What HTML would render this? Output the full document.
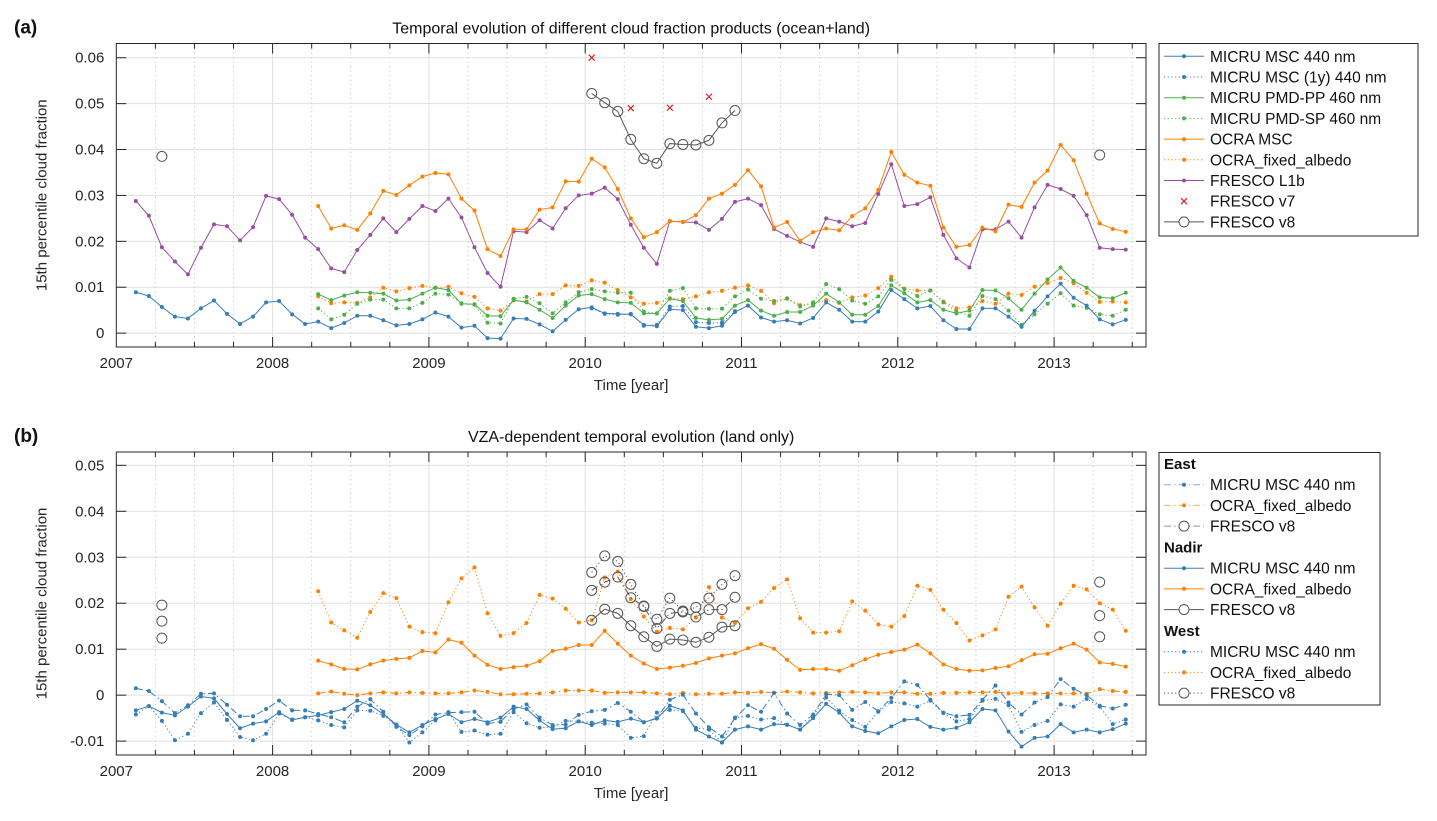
<!DOCTYPE html>
<html><head><meta charset="utf-8"><title>Cloud fraction temporal evolution</title>
<style>
body{margin:0;background:#fff;}
svg{display:block;font-family:"Liberation Sans",Arial,sans-serif;}
</style></head>
<body>
<svg id="fig" width="1437" height="821" viewBox="0 0 1437 821" xmlns="http://www.w3.org/2000/svg"></svg>
<script>
// ---------- DATA (values in units of 0.001 cloud fraction, monthly) ----------
// Panel (a)
const aMicruMscStart=[2007,2];
const aMicruMsc=[8.9,8.1,5.7,3.6,3.2,5.4,7.1,4.2,2.0,3.6,6.7, 7.0,4.1,2.0,2.5,1.1,2.2,3.8,3.8,2.8,1.7,2.0,3.0, 4.5,3.6,1.2,1.6,-1.1,-1.2,3.2,3.1,1.9,0.4,2.9,5.2, 5.6,4.3,4.2,4.1,1.8,1.5,5.2,5.0,1.4,1.1,1.6,4.6, 6.0,3.4,2.5,2.8,2.1,3.3,6.7,5.1,2.5,2.5,4.7,9.4, 7.4,5.4,5.9,2.8,0.9,0.9,5.4,5.4,3.6,1.4,4.9,8.0, 10.8,7.7,6.0,3.0,1.9,2.9];
const aMicru1yStart=[2010,1];
const aMicru1y=[5.4,4.2,4.0,4.2,1.6,1.8,5.8,5.9,2.4,2.2,2.3,4.8];
const aPmdPPStart=[2008,4];
const aPmdPP=[8.5,7.2,8.2,8.9,8.8,8.6,7.1,7.3,8.6, 9.9,9.4,6.4,6.3,3.8,3.7,7.2,6.7,5.1,3.3,6.0,8.2, 8.5,7.4,6.7,6.6,4.3,4.3,7.5,7.0,3.3,2.9,3.1,6.0, 7.2,4.9,3.8,4.6,4.6,6.0,8.6,6.7,4.0,4.0,5.9,10.4, 8.7,6.7,7.2,5.1,4.3,4.9,9.4,9.3,7.6,5.1,8.6,11.7, 14.3,11.4,9.9,7.8,7.6,8.8];
const aPmdSPStart=[2008,4];
const aPmdSP=[5.4,3.0,4.0,6.4,7.3,7.3,5.4,5.4,6.6, 8.6,8.4,6.5,6.2,2.3,2.1,7.5,7.9,6.5,4.3,6.7,8.9, 9.6,9.1,8.8,8.8,4.7,4.3,9.2,9.8,5.4,5.3,5.3,8.0, 9.5,7.5,7.0,7.5,5.8,6.7,10.7,9.6,7.1,6.4,8.0,11.6, 9.6,8.1,9.3,6.7,4.7,3.8,8.1,7.4,4.9,1.8,4.1,6.4, 8.7,6.0,5.5,4.1,3.8,5.1];
const aOcraMscStart=[2008,4];
const aOcraMsc=[27.7,22.8,23.5,22.5,26.1,31.0,30.1,32.2,34.1, 34.9,34.6,29.3,26.7,18.3,16.8,22.6,22.6,26.9,27.4,33.1,33.0, 38.0,36.1,31.4,25.0,20.9,22.0,24.4,24.2,25.7,29.3,30.4,32.3, 35.5,32.0,23.0,24.2,20.1,22.0,22.8,22.4,25.5,27.2,31.2,39.5, 34.5,32.8,32.1,23.0,18.8,19.2,23.0,22.2,28.0,27.5,32.8,35.4, 41.0,37.7,30.4,23.9,22.7,22.1];
const aOcraFixStart=[2008,4];
const aOcraFix=[8.0,6.5,6.7,6.6,7.8,9.9,9.1,9.8,10.3, 9.9,10.1,8.7,7.9,5.4,4.9,7.1,6.9,8.5,8.5,10.4,10.3, 11.5,11.0,9.4,7.8,6.4,6.6,7.6,7.4,8.0,8.9,9.2,9.9, 10.4,9.2,6.5,7.6,6.1,6.4,7.2,6.6,7.8,8.2,9.8,12.3, 9.7,9.3,9.3,6.9,5.4,5.6,7.0,6.4,8.6,8.3,10.1,10.9, 12.0,10.9,8.8,6.8,6.9,6.7];
const aFrescoL1bStart=[2007,2];
const aFrescoL1b=[28.8,25.6,18.7,15.6,12.8,18.6,23.7,23.3,20.2,23.1,29.9, 29.2,25.8,20.8,18.3,14.1,13.3,18.1,21.4,25.0,22.0,24.9,27.7, 26.6,29.3,25.2,18.7,13.1,10.1,22.2,22.0,24.6,22.8,27.2,30.0, 30.4,31.7,29.2,23.6,18.6,15.1,24.4,24.2,24.1,22.5,24.9,28.6, 29.3,27.9,22.7,21.2,19.9,18.8,25.0,24.3,23.3,24.0,30.3,36.8, 27.7,28.1,29.6,21.4,16.3,14.3,22.6,22.6,24.3,20.8,27.4,32.3, 31.4,29.9,25.7,18.6,18.3,18.2];
const aFrescoV7Months=[[2010,1],[2010,4],[2010,7],[2010,10]];
const aFrescoV7=[60.0,49.0,49.1,51.5];
const aFrescoV8Months=[[2007,4],[2010,1],[2010,2],[2010,3],[2010,4],[2010,5],[2010,6],[2010,7],[2010,8],[2010,9],[2010,10],[2010,11],[2010,12],[2013,4]];
const aFrescoV8=[38.5,52.2,50.2,48.3,42.2,38.0,37.0,41.3,41.1,41.0,42.0,45.8,48.5,38.8];

// Panel (b)
const bMscNadirStart=[2007,2];
const bMscNadir=[-3.3,-2.4,-3.8,-4.4,-2.5,-0.3,-0.7,-4.1,-7.2,-6.2,-5.7, -3.7,-5.4,-4.8,-4.4,-3.7,-3.0,-1.2,-2.2,-4.1,-6.4,-8.1,-6.5, -5.2,-4.1,-5.9,-5.2,-5.9,-4.9,-2.5,-3.0,-5.5,-7.4,-7.2,-5.7, -6.5,-5.5,-5.8,-5.1,-5.9,-5.1,-2.3,-3.3,-7.5,-9.0,-10.3,-7.5, -6.8,-7.5,-6.3,-6.4,-7.5,-5.0,-1.9,-3.8,-6.8,-7.8,-8.3,-6.8, -5.4,-5.2,-6.9,-7.5,-7.1,-5.9,-3.0,-3.3,-7.9,-11.2,-9.3,-9.0, -6.3,-8.1,-7.5,-8.1,-7.4,-6.2];
const bMscEastStart=[2007,2];
const bMscEast=[1.5,0.9,-1.3,-3.9,-2.2,0.3,0.4,-2.1,-4.6,-4.6,-3.0, -1.2,-3.3,-3.3,-4.1,-4.8,-5.9,-2.5,-0.9,-3.6,-6.9,-8.7,-6.8, -4.2,-3.8,-3.7,-3.6,-6.2,-5.8,-3.0,-2.0,-4.9,-6.5,-6.4,-4.3, -3.5,-3.2,-1.7,-3.6,-5.9,-5.0,-1.0,0.1,-4.0,-7.0,-9.0,-5.0, -2.2,-3.6,0.5,-4.0,-6.5,-4.2,0.2,0.0,-3.2,-1.5,-3.5,-0.6, 3.0,2.2,-1.0,-3.8,-4.6,-4.3,-1.0,2.1,-1.6,-4.2,-1.6,-0.4, 3.5,1.4,0.0,-2.3,-2.9,-2.1];
const bMscWestStart=[2007,2];
const bMscWest=[-4.2,-2.4,-5.6,-9.8,-8.4,-3.9,-1.6,-5.4,-9.1,-9.8,-8.4, -4.0,-5.3,-4.8,-5.5,-6.5,-7.0,-3.3,-3.4,-4.5,-6.4,-10.3,-8.1, -5.5,-3.7,-8.0,-7.7,-8.6,-8.4,-3.7,-6.1,-7.1,-6.9,-5.6,-5.7, -6.0,-6.2,-6.5,-9.3,-8.9,-3.8,-3.2,-3.5,-7.1,-7.5,-10.3,-4.9, -4.5,-5.3,-5.0,-6.5,-7.5,-4.5,-0.5,-3.4,-5.4,-6.9,-3.6,-1.5, -1.8,-2.5,-1.2,-3.9,-5.7,-5.2,-1.2,-0.8,-2.2,-8.0,-6.5,-5.6, -2.0,-2.5,-0.8,-2.5,-6.3,-5.3];
const bOcraNadirStart=[2008,4];
const bOcraNadir=[7.5,6.7,5.7,5.6,6.7,7.5,7.9,8.1,9.6, 9.3,12.1,11.4,8.6,6.6,5.7,6.1,6.4,7.4,9.6,10.1,10.9, 10.9,14.0,11.2,8.6,6.9,5.7,6.0,6.4,7.0,8.0,8.6,9.1, 10.2,11.1,10.1,7.7,5.5,5.7,5.7,5.3,6.5,7.8,8.8,9.4, 9.9,11.0,9.1,6.7,5.7,5.3,5.4,5.9,6.3,7.6,8.9,9.0, 10.2,11.2,9.9,7.1,6.8,6.2];
const bOcraWestStart=[2008,4];
const bOcraWest=[22.6,15.8,14.1,12.5,18.1,22.2,21.1,14.9,13.7, 13.5,20.2,25.4,27.8,17.8,12.9,13.5,15.7,21.8,21.0,18.8,15.8, 16.3,25.6,26.9,20.9,17.1,13.8,14.6,14.3,16.9,23.5,16.9,15.7, 18.9,20.3,23.3,25.2,16.7,13.6,13.6,13.9,20.4,18.4,15.4,14.9, 17.2,23.8,22.9,18.6,15.7,11.9,13.0,14.3,21.4,23.6,19.1,15.1, 19.9,23.8,23.0,20.0,18.6,14.0];
const bOcraEastStart=[2008,4];
const bOcraEast=[0.4,0.8,0.3,0.0,0.4,0.6,0.4,0.6,0.5, 0.4,0.4,0.6,1.0,0.7,0.2,0.2,0.3,0.4,0.6,1.0,1.0, 1.0,0.5,0.6,0.6,0.6,0.4,0.2,0.5,0.2,0.3,0.3,0.6, 0.5,0.7,0.5,0.8,0.6,0.4,0.5,0.6,0.7,0.6,0.4,0.6, 0.6,0.3,0.3,0.5,0.5,0.6,0.6,0.7,0.4,0.5,0.4,0.4, 0.4,0.4,0.3,1.3,0.9,0.7];
const bFrescoMonths=[[2007,4],[2010,1],[2010,2],[2010,3],[2010,4],[2010,5],[2010,6],[2010,7],[2010,8],[2010,9],[2010,10],[2010,11],[2010,12],[2013,4]];
const bFrescoEast=[16.1,22.8,24.6,25.7,21.2,19.3,14.5,17.8,18.1,17.0,18.6,18.6,21.3,17.3];
const bFrescoNadir=[12.4,16.3,18.7,17.8,15.1,12.7,10.6,12.2,12.0,11.5,12.6,14.8,15.1,12.7];
const bFrescoWest=[19.6,26.7,30.3,29.1,24.1,19.4,16.5,21.1,18.3,19.1,21.1,24.1,26.0,24.6];

const xTicks=[2007,2008,2009,2010,2011,2012,2013];
const aYTicks=[0,0.01,0.02,0.03,0.04,0.05,0.06];
const aYTickLabels=["0","0.01","0.02","0.03","0.04","0.05","0.06"];
const bYTicks=[-0.01,0,0.01,0.02,0.03,0.04,0.05];
const bYTickLabels=["-0.01","0","0.01","0.02","0.03","0.04","0.05"];

// ---------- RENDERING ----------
const NS="http://www.w3.org/2000/svg";
const svg=document.getElementById('fig');
const C={blue:"#377eb8",orange:"#ff7f00",green:"#4daf4a",purple:"#984ea3",red:"#e41a1c",gray:"#555555"};
function mk(tag,attrs,parent){const e=document.createElementNS(NS,tag);for(const k in attrs)e.setAttribute(k,attrs[k]);(parent||svg).appendChild(e);return e;}
function monthT(y,m){return y+(m-0.5)/12;}

function makeAxes(cfg){
  const g=mk('g',{});
  
  
  const X=t=>cfg.L+(t-cfg.x0)/(cfg.x1-cfg.x0)*(cfg.R-cfg.L);
  const Y=v=>cfg.B-(v-cfg.y0)/(cfg.y1-cfg.y0)*(cfg.B-cfg.T);
  // grid
  const grid=mk('g',{},g);
  
  
  for(let y=2007;y<2014;y++){for(let q=0;q<4;q++){const t=y+q/4;if(t<=cfg.x0||t>=cfg.x1)continue;
    mk('line',{x1:X(t),x2:X(t),y1:cfg.T,y2:cfg.B,stroke:q==0?"#e0e0e0":"#d0d0d0","stroke-width":1,"stroke-dasharray":q==0?"":"1.5,3"},grid);}}
  cfg.yt.forEach(v=>mk('line',{x1:cfg.L,x2:cfg.R,y1:Y(v),y2:Y(v),stroke:"#e0e0e0","stroke-width":1},grid));
  // box and ticks
  mk('rect',{x:cfg.L,y:cfg.T,width:cfg.R-cfg.L,height:cfg.B-cfg.T,fill:"none",stroke:"#262626","stroke-width":1},g);
  for(let y=2007;y<2014;y++){for(let q=0;q<4;q++){const t=y+q/4;if(t<=cfg.x0||t>=cfg.x1)continue;const l=q==0?10:5;
    mk('line',{x1:X(t),x2:X(t),y1:cfg.B,y2:cfg.B-l,stroke:"#262626"},g);mk('line',{x1:X(t),x2:X(t),y1:cfg.T,y2:cfg.T+l,stroke:"#262626"},g);}}
  xTicks.forEach(t=>{const tx=mk('text',{x:X(t),y:cfg.B+21,"text-anchor":"middle","font-size":15,fill:"#262626"},g);tx.textContent=String(t);
    });
  cfg.yt.forEach((v,i)=>{mk('line',{x1:cfg.L,x2:cfg.L+10,y1:Y(v),y2:Y(v),stroke:"#262626"},g);mk('line',{x1:cfg.R,x2:cfg.R-10,y1:Y(v),y2:Y(v),stroke:"#262626"},g);
    const tx=mk('text',{x:cfg.L-12,y:Y(v)+5,"text-anchor":"end","font-size":15,fill:"#262626"},g);tx.textContent=cfg.ytl[i];
    });
  const xl=mk('text',{x:(cfg.L+cfg.R)/2,y:cfg.B+43,"text-anchor":"middle","font-size":15,fill:"#262626"},g);xl.textContent="Time [year]";
  
  const yl=mk('text',{x:0,y:0,transform:`translate(${cfg.L-70},${(cfg.T+cfg.B)/2}) rotate(-90)`,"text-anchor":"middle","font-size":15,fill:"#262626"},g);yl.textContent="15th percentile cloud fraction";
  
  const ti=mk('text',{x:(cfg.L+cfg.R)/2,y:cfg.T-10,"text-anchor":"middle","font-size":16,fill:"#111"},g);ti.textContent=cfg.title;
  
  const pl=mk('text',{x:14,y:cfg.T-10,"font-size":19,"font-weight":"bold",fill:"#111"},g);pl.textContent=cfg.panel;
  
  const clipId='clip'+cfg.panel.replace(/\W/g,'');
  const cp=mk('clipPath',{id:clipId},g);mk('rect',{x:cfg.L,y:cfg.T,width:cfg.R-cfg.L,height:cfg.B-cfg.T},cp);
  const plot=mk('g',{"clip-path":`url(#${clipId})`},g);
  
  return {X,Y,plot};
}

function seq(start,vals){return vals.map((v,i)=>{const m=start[1]-1+i;return [start[0]+Math.floor(m/12)+((m%12)+0.5)/12,v/1000];});}
function fromMonths(months,vals){return vals.map((v,i)=>[monthT(months[i][0],months[i][1]),v/1000]);}
const DASH={solid:"",dot:"1.2,2.5",dashdot:"7,3,1.5,3"};

function drawLine(ax,pts,color,style,name,opts){
  opts=opts||{};
  const g=mk('g',{},ax.plot);
  
  
  // break lines when months non-consecutive
  let segs=[],cur=[];
  pts.forEach((p,i)=>{if(i>0&&p[0]-pts[i-1][0]>0.09){segs.push(cur);cur=[];}cur.push(p);});segs.push(cur);
  if(!opts.noline)segs.forEach(s=>{if(s.length<2)return;mk('polyline',{points:s.map(p=>ax.X(p[0])+','+ax.Y(p[1])).join(' '),fill:"none",stroke:color,"stroke-width":1,"stroke-dasharray":DASH[style],opacity:opts.op||1},g);});
  pts.forEach(p=>{const x=ax.X(p[0]),y=ax.Y(p[1]);
    if(opts.marker=="circle")mk('circle',{cx:x,cy:y,r:5,fill:"none",stroke:color,"stroke-width":1},g);
    else if(opts.marker=="x"){mk('path',{d:`M${x-3},${y-3}L${x+3},${y+3}M${x-3},${y+3}L${x+3},${y-3}`,stroke:color,"stroke-width":1.2},g);}
    else mk('circle',{cx:x,cy:y,r:2,fill:color},g);});
}

function legend(x,y,w,h,items,name){
  const g=mk('g',{});
  
  
  mk('rect',{x:x,y:y,width:w,height:h,fill:"#fff",stroke:"#262626","stroke-width":1},g);
  items.forEach(it=>{
    const e=mk('g',{},g);
    
    
    if(it.header){const t=mk('text',{x:x+5,y:it.y+5,"font-size":15,"font-weight":"bold",fill:"#111"},e);t.textContent=it.header;return;}
    if(it.style)mk('line',{x1:x+5,x2:x+45,y1:it.y,y2:it.y,stroke:it.color,"stroke-dasharray":DASH[it.style],"stroke-width":1,opacity:it.op||1},e);
    if(it.marker=="circle")mk('circle',{cx:x+25,cy:it.y,r:5,fill:"#fff",stroke:it.color},e);
    else if(it.marker=="x")mk('path',{d:`M${x+22},${it.y-3}L${x+28},${it.y+3}M${x+22},${it.y+3}L${x+28},${it.y-3}`,stroke:it.color,"stroke-width":1.2},e);
    else mk('circle',{cx:x+25,cy:it.y,r:2,fill:it.color},e);
    const t=mk('text',{x:x+51,y:it.y+5.5,"font-size":15.5,fill:"#111"},e);t.textContent=it.label;
  });
}

// Panel (a)
const axA=makeAxes({name:'panel-a-chart',panel:'(a)',title:'Temporal evolution of different cloud fraction products (ocean+land)',L:116.3,R:1146,T:43.5,B:347,x0:2007,x1:2013+1029.7/156.3-6,y0:-0.00302,y1:0.0631,yt:aYTicks,ytl:aYTickLabels});
drawLine(axA,seq(aFrescoL1bStart,aFrescoL1b),C.purple,'solid','series-fresco-l1b');
drawLine(axA,seq(aOcraMscStart,aOcraMsc),C.orange,'solid','series-ocra-msc');
drawLine(axA,seq(aOcraFixStart,aOcraFix),C.orange,'dot','series-ocra-fixed-albedo');
drawLine(axA,seq(aPmdSPStart,aPmdSP),C.green,'dot','series-micru-pmd-sp');
drawLine(axA,seq(aPmdPPStart,aPmdPP),C.green,'solid','series-micru-pmd-pp');
drawLine(axA,seq(aMicru1yStart,aMicru1y),C.blue,'dot','series-micru-msc-1y');
drawLine(axA,seq(aMicruMscStart,aMicruMsc),C.blue,'solid','series-micru-msc');
drawLine(axA,fromMonths(aFrescoV7Months,aFrescoV7),C.red,'solid','series-fresco-v7',{noline:true,marker:'x'});
drawLine(axA,fromMonths(aFrescoV8Months,aFrescoV8),C.gray,'solid','series-fresco-v8',{marker:'circle'});

// Panel (b)
const axB=makeAxes({name:'panel-b-chart',panel:'(b)',title:'VZA-dependent temporal evolution (land only)',L:116.3,R:1146,T:452,B:755,x0:2007,x1:2013+1029.7/156.3-6,y0:-0.01302,y1:0.0529,yt:bYTicks,ytl:bYTickLabels});
drawLine(axB,seq(bOcraWestStart,bOcraWest),C.orange,'dot','series-west-ocra');
drawLine(axB,seq(bOcraNadirStart,bOcraNadir),C.orange,'solid','series-nadir-ocra');
drawLine(axB,seq(bOcraEastStart,bOcraEast),C.orange,'dashdot','series-east-ocra');
drawLine(axB,seq(bMscWestStart,bMscWest),C.blue,'dot','series-west-micru');
drawLine(axB,seq(bMscEastStart,bMscEast),C.blue,'dashdot','series-east-micru');
drawLine(axB,seq(bMscNadirStart,bMscNadir),C.blue,'solid','series-nadir-micru');
drawLine(axB,fromMonths(bFrescoMonths,bFrescoWest),C.gray,'dot','series-west-fresco',{marker:'circle'});
drawLine(axB,fromMonths(bFrescoMonths,bFrescoEast),C.gray,'dashdot','series-east-fresco',{marker:'circle'});
drawLine(axB,fromMonths(bFrescoMonths,bFrescoNadir),C.gray,'solid','series-nadir-fresco',{marker:'circle'});

legend(1159,43.5,259,192.5,[
 {y:56.3,color:C.blue,style:'solid',label:'MICRU MSC 440 nm'},
 {y:77,color:C.blue,style:'dot',label:'MICRU MSC (1y) 440 nm'},
 {y:97.7,color:C.green,style:'solid',label:'MICRU PMD-PP 460 nm'},
 {y:118.4,color:C.green,style:'dot',label:'MICRU PMD-SP 460 nm'},
 {y:139.1,color:C.orange,style:'solid',label:'OCRA MSC'},
 {y:159.8,color:C.orange,style:'dot',label:'OCRA_fixed_albedo'},
 {y:180.5,color:C.purple,style:'solid',label:'FRESCO L1b'},
 {y:201.2,color:C.red,marker:'x',label:'FRESCO v7'},
 {y:221.9,color:C.gray,style:'solid',marker:'circle',label:'FRESCO v8'}],'legend-panel-a');

legend(1159,452.5,221,252.5,[
 {y:464,header:'East'},
 {y:484.7,color:C.blue,style:'dashdot',label:'MICRU MSC 440 nm',op:0.6},
 {y:505.4,color:C.orange,style:'dashdot',label:'OCRA_fixed_albedo',op:0.6},
 {y:526.1,color:C.gray,style:'dashdot',marker:'circle',label:'FRESCO v8',op:0.6},
 {y:547.5,header:'Nadir'},
 {y:568.2,color:C.blue,style:'solid',label:'MICRU MSC 440 nm'},
 {y:588.9,color:C.orange,style:'solid',label:'OCRA_fixed_albedo'},
 {y:609.6,color:C.gray,style:'solid',marker:'circle',label:'FRESCO v8'},
 {y:631,header:'West'},
 {y:651.7,color:C.blue,style:'dot',label:'MICRU MSC 440 nm'},
 {y:672.4,color:C.orange,style:'dot',label:'OCRA_fixed_albedo'},
 {y:693.1,color:C.gray,style:'dot',marker:'circle',label:'FRESCO v8'}],'legend-panel-b');
</script>
</body></html>
